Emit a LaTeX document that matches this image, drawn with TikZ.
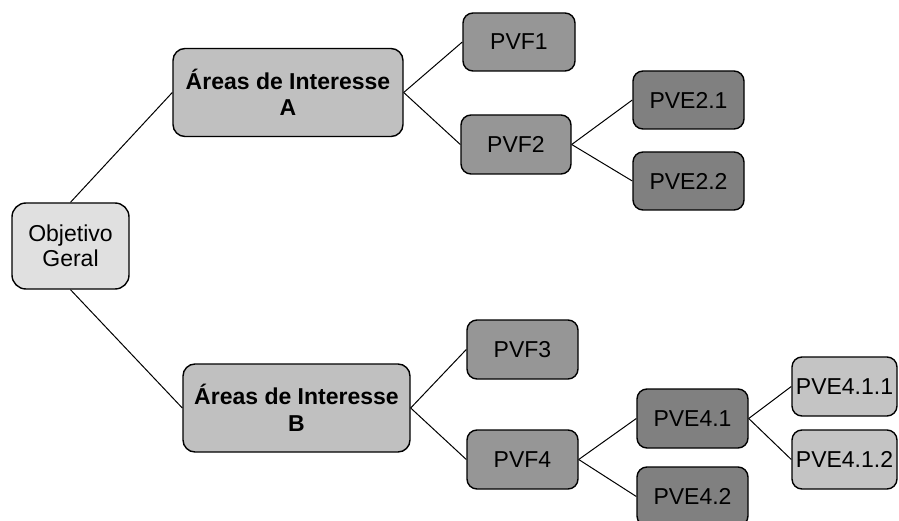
\documentclass[tikz,border=0pt]{standalone}
\usepackage{fontspec}
\setmainfont{Liberation Sans}
\definecolor{goalfill}{HTML}{E0E0E0}
\definecolor{areafill}{HTML}{C0C0C0}
\definecolor{pvffill}{HTML}{969696}
\definecolor{pvefill}{HTML}{808080}
\definecolor{subfill}{HTML}{C4C4C4}
\begin{document}
\begin{tikzpicture}[x=1pt,y=-1pt,
  box/.style={draw=black, line width=1.4pt, rounded corners=10pt, inner sep=0pt,
    align=center, font=\fontsize{23}{25.5}\selectfont},
  goal/.style={box, fill=goalfill, rounded corners=14pt, minimum width=117pt, minimum height=86pt},
  area/.style={box, fill=areafill, rounded corners=12pt, minimum height=88pt,
    font=\fontsize{23}{26.5}\selectfont\bfseries},
  pvf/.style={box, fill=pvffill, minimum width=111pt, minimum height=59pt},
  pve/.style={box, fill=pvefill, minimum width=111pt, minimum height=58pt},
  pvesub/.style={box, fill=subfill, minimum width=105pt, minimum height=59pt},
  link/.style={draw=black, line width=1pt}]
\useasboundingbox (0,0) rectangle (899,521);
\clip (0,0) rectangle (899,521);

% root
\node[goal] (obj) at (70.5,246) {Objetivo\\Geral};

% areas of interest
\node[area, minimum width=230pt] (areaA) at (288,92.5) {Áreas de Interesse\\A};
\node[area, minimum width=227pt] (areaB) at (296.5,408) {Áreas de Interesse\\B};

% fundamental points of view
\node[pvf, minimum width=112pt, minimum height=58pt] (pvf1) at (519,42) {PVF1};
\node[pvf, minimum width=110pt] (pvf2) at (516,144.5) {PVF2};
\node[pvf] (pvf3) at (522.5,349.5) {PVF3};
\node[pvf] (pvf4) at (522.5,459.5) {PVF4};

% elementary points of view
\node[pve] (pve21) at (688.5,100) {PVE2.1};
\node[pve] (pve22) at (688.5,181) {PVE2.2};
\node[pve, minimum height=59pt] (pve41) at (692.5,418.5) {PVE4.1};
\node[pve, minimum height=59pt] (pve42) at (692.5,496.5) {PVE4.2};
\node[pvesub] (pve411) at (844.5,386.5) {PVE4.1.1};
\node[pvesub] (pve412) at (844.5,459.5) {PVE4.1.2};

% connectors
\draw[link] (obj.north) -- (areaA.west);
\draw[link] (obj.south) -- (areaB.west);
\draw[link] (areaA.east) -- (pvf1.west);
\draw[link] (areaA.east) -- (pvf2.west);
\draw[link] (pvf2.east) -- (pve21.west);
\draw[link] (pvf2.east) -- (pve22.west);
\draw[link] (areaB.east) -- (pvf3.west);
\draw[link] (areaB.east) -- (pvf4.west);
\draw[link] (pvf4.east) -- (pve41.west);
\draw[link] (pvf4.east) -- (pve42.west);
\draw[link] (pve41.east) -- (pve411.west);
\draw[link] (pve41.east) -- (pve412.west);
\end{tikzpicture}
\end{document}
